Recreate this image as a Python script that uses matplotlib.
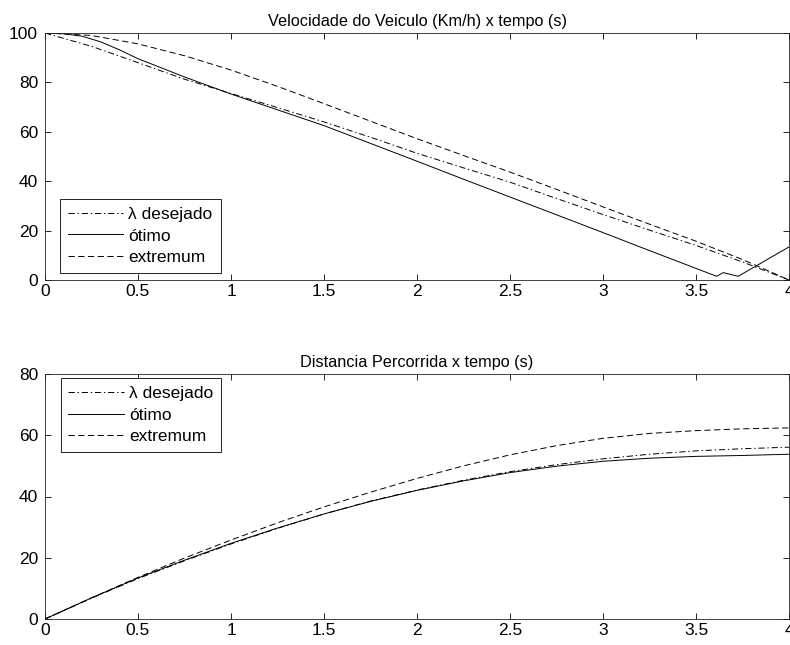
import matplotlib
matplotlib.use("Agg")
import matplotlib.pyplot as plt

plt.rcParams['font.family'] = ['Liberation Sans', 'DejaVu Sans']
plt.rcParams['lines.scale_dashes'] = False

# --- Vehicle speed (km/h) vs time (s) ---
t_des_v = [0, 0.25, 0.5, 0.75, 1.0, 1.25, 1.5, 1.75, 2.0, 2.25, 2.5, 2.75, 3.0, 3.25, 3.5, 3.75, 4.0]
v_des = [100, 94.6, 88.0, 81.3, 75.5, 69.8, 64.0, 57.8, 51.3, 45.4, 39.6, 33.0, 26.5, 20.2, 14.0, 7.3, 0.0]

t_otm_v = [0, 0.1, 0.2, 0.3, 0.4, 0.5, 0.75, 1.0, 1.25, 1.5, 1.75, 2.0, 2.25, 2.5, 2.75, 3.0, 3.25, 3.5,
           3.611, 3.647, 3.727, 4.0]
v_otm = [100, 99.7, 98.7, 96.4, 93.2, 89.6, 82.2, 75.3, 68.9, 62.5, 55.3, 48.1, 40.8, 33.6, 26.4, 19.2, 11.9, 4.7,
         1.5, 3.0, 1.5, 13.4]

t_ext_v = [0, 0.25, 0.5, 0.75, 1.0, 1.25, 1.5, 1.75, 2.0, 2.25, 2.5, 2.75, 3.0, 3.25, 3.5, 3.75, 4.0]
v_ext = [100, 99.0, 95.6, 90.8, 85.0, 78.4, 71.4, 64.3, 57.2, 50.4, 43.7, 36.7, 29.6, 22.6, 15.7, 8.3, 0.0]

# --- Distance travelled vs time (s) ---
t_dist = [0, 0.25, 0.5, 0.75, 1.0, 1.25, 1.5, 1.75, 2.0, 2.25, 2.5, 2.75, 3.0, 3.25, 3.5, 3.75, 4.0]
d_des = [0, 6.8, 13.2, 19.0, 24.5, 29.6, 34.3, 38.5, 42.1, 45.3, 48.1, 50.4, 52.3, 53.8, 54.9, 55.6, 56.1]
d_otm = [0, 6.9, 13.4, 19.2, 24.7, 29.7, 34.3, 38.4, 42.0, 45.1, 47.8, 49.9, 51.5, 52.5, 53.1, 53.4, 53.8]
d_ext = [0, 6.9, 13.6, 19.9, 25.8, 31.4, 36.6, 41.4, 45.9, 50.0, 53.6, 56.6, 59.0, 60.6, 61.5, 62.1, 62.4]

labels = ['λ desejado', 'ótimo', 'extremum']
xticks = [0, 0.5, 1, 1.5, 2, 2.5, 3, 3.5, 4]
xticklabels = ['0', '0.5', '1', '1.5', '2', '2.5', '3', '3.5', '4']

W, H = 790, 645
fig = plt.figure(figsize=(W / 100, H / 100), dpi=100, facecolor='white')
ax1 = fig.add_axes([45 / W, 1 - 280 / H, 744 / W, 247 / H])
ax2 = fig.add_axes([45 / W, 1 - 619 / H, 744 / W, 245 / H])

lw = 0.7
dashdot = (0, (4.5, 2.0, 1.0, 2.0))
dashed = (0, (4.5, 2.5))


def style(ax, yticks):
    ax.set_xlim(0, 4)
    ax.set_xticks(xticks)
    ax.set_xticklabels(xticklabels)
    ax.set_yticks(yticks)
    ax.set_yticklabels([str(v) for v in yticks])
    ax.tick_params(direction='in', length=4.3, width=0.6, top=True, right=True,
                   labelsize=12.5, colors='black')
    ax.tick_params(axis='x', pad=3)
    ax.tick_params(axis='y', pad=5)
    for s in ax.spines.values():
        s.set_linewidth(0.6)
        s.set_color('#222222')


ax1.plot(t_des_v, v_des, color='black', lw=lw, linestyle=dashdot, label=labels[0])
ax1.plot(t_otm_v, v_otm, color='black', lw=lw, linestyle='-', label=labels[1])
ax1.plot(t_ext_v, v_ext, color='black', lw=lw, linestyle=dashed, label=labels[2])
ax1.set_ylim(0, 100)
style(ax1, [0, 20, 40, 60, 80, 100])
ax1.set_title('Velocidade do Veiculo (Km/h) x tempo (s)', fontsize=11.7, pad=5)

ax2.plot(t_dist, d_des, color='black', lw=lw, linestyle=dashdot, label=labels[0])
ax2.plot(t_dist, d_otm, color='black', lw=lw, linestyle='-', label=labels[1])
ax2.plot(t_dist, d_ext, color='black', lw=lw, linestyle=dashed, label=labels[2])
ax2.set_ylim(0, 80)
style(ax2, [0, 20, 40, 60, 80])
ax2.set_title('Distancia Percorrida x tempo (s)', fontsize=11.7, pad=5)

leg_kw = dict(fontsize=12.5, frameon=True, fancybox=False, shadow=False, framealpha=1,
              edgecolor='black', borderaxespad=0, handlelength=3.2, handletextpad=0.3,
              labelspacing=0.38, borderpad=0.45)
l1 = ax1.legend(loc='lower left', bbox_to_anchor=(0.020, 0.028), **leg_kw)
l2 = ax2.legend(loc='upper left', bbox_to_anchor=(0.021, 0.984), **leg_kw)
for lg in (l1, l2):
    lg.get_frame().set_linewidth(0.6)

fig.savefig('out.png', dpi=100, facecolor='white')
